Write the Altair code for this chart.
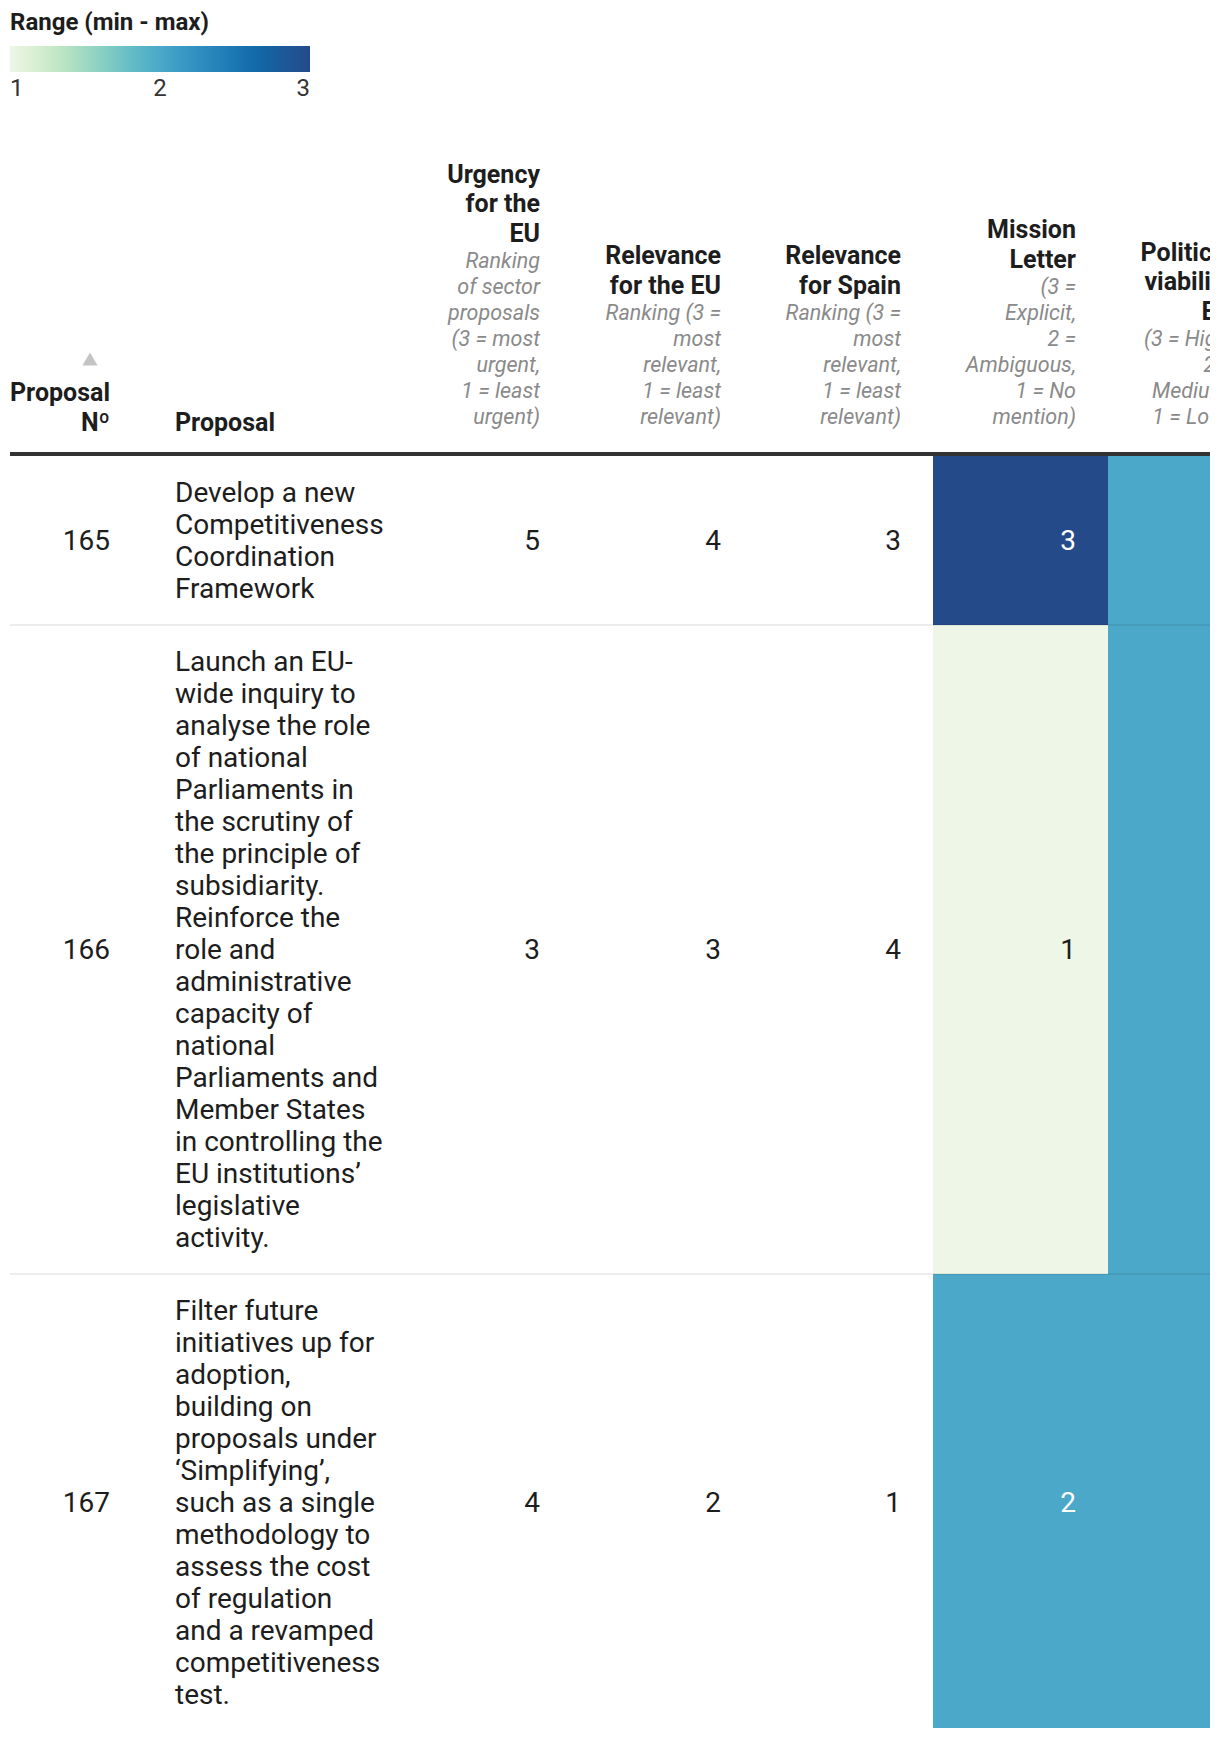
import altair as alt
import pandas as pd

# ---------------- data ----------------
proposal_no = [165, 166, 167]
proposal_text = [
    ["Develop a new", "Competitiveness", "Coordination", "Framework"],
    ["Launch an EU-", "wide inquiry to", "analyse the role", "of national",
     "Parliaments in", "the scrutiny of", "the principle of", "subsidiarity.",
     "Reinforce the", "role and", "administrative", "capacity of", "national",
     "Parliaments and", "Member States", "in controlling the", "EU institutions\u2019",
     "legislative", "activity."],
    ["Filter future", "initiatives up for", "adoption,", "building on",
     "proposals under", "\u2018Simplifying\u2019,", "such as a single", "methodology to",
     "assess the cost", "of regulation", "and a revamped", "competitiveness", "test."],
]
urgency_eu = [5, 3, 4]
relevance_eu = [4, 3, 2]
relevance_spain = [3, 4, 1]
mission_letter = [3, 1, 2]
political_viability = [2, 2, 2]

value_cols = ["urgency", "rel_eu", "rel_es", "mission", "political"]
values_by_col = {
    "urgency": urgency_eu,
    "rel_eu": relevance_eu,
    "rel_es": relevance_spain,
    "mission": mission_letter,
    "political": political_viability,
}
shaded_cols = ["mission", "political"]

header_bold = {
    "no": ["Proposal", "N\u00ba"],
    "urgency": ["Urgency", "for the", "EU"],
    "rel_eu": ["Relevance", "for the EU"],
    "rel_es": ["Relevance", "for Spain"],
    "mission": ["Mission", "Letter"],
    "political": ["Political", "viability", "EU"],
}
header_proposal = "Proposal"
header_note = {
    "urgency": ["Ranking", "of sector", "proposals", "(3 = most", "urgent,", "1 = least", "urgent)"],
    "rel_eu": ["Ranking (3 =", "most", "relevant,", "1 = least", "relevant)"],
    "rel_es": ["Ranking (3 =", "most", "relevant,", "1 = least", "relevant)"],
    "mission": ["(3 =", "Explicit,", "2 =", "Ambiguous,", "1 = No", "mention)"],
    "political": ["(3 = High,", "2 =", "Medium,", "1 = Low)"],
}
legend_title = "Range (min - max)"
legend_ticks = [1, 2, 3]
color_stops = [1, 1.333, 1.667, 2, 2.333, 2.667, 3]
color_range = ["#eef7e7", "#bfe6c4", "#80cac3", "#4ba8c9", "#2a87bd", "#1067a6", "#244a8a"]

# ---------------- layout (pixels inside plot area) ----------------
W, H = 1200, 1720
X_NO = 100
X_PROP = 165
COL_RIGHT = {"no": 100, "urgency": 530, "rel_eu": 711, "rel_es": 891,
             "mission": 1066, "political": 1222}
VISIBLE_RIGHT = W
CELL_PAD = 32
NOTE_BASE = 409.5
BOLD_BASE = 414.5
NOTE_LH = 26
BOLD_LH = 29.5
BOLD_NOTE_GAP = 28
RULE_Y = 446
BODY_TOP = 448
LINE_H = 32
ROW_PAD = 20.5
TEXT_DY = 1
BODY_FS = 28
HEAD_FS = 25
NOTE_FS = 21.5
TEXT_COLOR = "#1d1d1d"

# ---------------- derived tables ----------------
row_tops, row_bottoms = [], []
top = BODY_TOP
for lines in proposal_text:
    h = len(lines) * LINE_H + 2 * ROW_PAD
    row_tops.append(top)
    row_bottoms.append(top + h)
    top += h

col_order = ["no", "urgency", "rel_eu", "rel_es", "mission", "political"]

cells = []
for c in shaded_cols:
    i = col_order.index(c)
    left = COL_RIGHT[col_order[i - 1]] + CELL_PAD
    right = COL_RIGHT[c] + CELL_PAD
    for r in range(len(proposal_no)):
        cells.append({"x": left, "x2": right, "y": row_tops[r], "y2": row_bottoms[r],
                      "value": values_by_col[c][r]})
cells_df = pd.DataFrame(cells)

nums = []
for r in range(len(proposal_no)):
    yc = (row_tops[r] + row_bottoms[r]) / 2 + TEXT_DY
    nums.append({"x": COL_RIGHT["no"], "y": yc, "text": str(proposal_no[r]), "white": False})
    for c in value_cols:
        if COL_RIGHT[c] > VISIBLE_RIGHT:
            continue  # lies beyond the visible (scrolled) table area
        v = values_by_col[c][r]
        nums.append({"x": COL_RIGHT[c], "y": yc, "text": str(v),
                     "white": bool(c in shaded_cols and v >= 2)})
nums_df = pd.DataFrame(nums)

prop_lines = []
for r, lines in enumerate(proposal_text):
    for k, t in enumerate(lines):
        prop_lines.append({"x": X_PROP,
                           "y": row_tops[r] + ROW_PAD + LINE_H / 2 + k * LINE_H + TEXT_DY,
                           "text": t})
prop_df = pd.DataFrame(prop_lines)

bold_rows, note_rows = [], []
for c, blines in header_bold.items():
    notes = header_note.get(c, [])
    if notes:
        first_note = NOTE_BASE - (len(notes) - 1) * NOTE_LH
        for k, t in enumerate(notes):
            note_rows.append({"x": COL_RIGHT[c], "y": first_note + k * NOTE_LH, "text": t})
        last_bold = first_note - BOLD_NOTE_GAP
    else:
        last_bold = BOLD_BASE
    nb = len(blines)
    for k, t in enumerate(blines):
        bold_rows.append({"x": COL_RIGHT[c], "y": last_bold - (nb - 1 - k) * BOLD_LH, "text": t})
bold_df = pd.DataFrame(bold_rows)
note_df = pd.DataFrame(note_rows)
prop_head_df = pd.DataFrame([{"x": X_PROP, "y": BOLD_BASE, "text": header_proposal}])
arrow_df = pd.DataFrame([{"x": X_NO - 20, "y": BOLD_BASE - BOLD_LH - 34}])

seps_df = pd.DataFrame([{"y": b} for b in row_bottoms])
rule_df = pd.DataFrame([{"y": RULE_Y}])

xs = alt.Scale(domain=[0, W], nice=False, zero=False)
ys = alt.Scale(domain=[0, H], nice=False, zero=False, reverse=True)

def X(f="x"):
    return alt.X(f + ":Q", scale=xs, axis=None)

def Y(f="y"):
    return alt.Y(f + ":Q", scale=ys, axis=None)

cell_layer = alt.Chart(cells_df).mark_rect(clip=True).encode(
    x=X(), x2="x2:Q", y=Y(), y2="y2:Q",
    color=alt.Color(
        "value:Q",
        scale=alt.Scale(domain=color_stops, range=color_range),
        legend=alt.Legend(
            title=legend_title, orient="none", legendX=0, legendY=3,
            direction="horizontal", gradientLength=300, gradientThickness=26,
            gradientStrokeWidth=0, values=legend_ticks, format="d", padding=0,
            titleFont="Roboto", titleFontSize=24, titleFontWeight="bold",
            titleColor=TEXT_COLOR, titlePadding=11, titleLimit=400,
            labelFont="Roboto", labelFontSize=24, labelColor="#333333", labelOffset=5,
        ),
    ),
)

sep_layer = alt.Chart(seps_df).mark_rule(color="#000000", opacity=0.07, strokeWidth=2, clip=True).encode(
    y=Y(), x=alt.value(0), x2=alt.value(W)
)
rule_layer = alt.Chart(rule_df).mark_rule(color="#333333", strokeWidth=4, clip=True).encode(
    y=Y(), x=alt.value(0), x2=alt.value(W)
)

num_layer = alt.Chart(nums_df).mark_text(
    align="right", baseline="middle", font="Roboto", fontSize=BODY_FS, clip=True
).encode(
    x=X(), y=Y(), text="text:N",
    color=alt.condition("datum.white", alt.value("#ffffff"), alt.value(TEXT_COLOR)),
)

prop_layer = alt.Chart(prop_df).mark_text(
    align="left", baseline="middle", font="Roboto", fontSize=BODY_FS, color=TEXT_COLOR, clip=True
).encode(x=X(), y=Y(), text="text:N")

bold_layer = alt.Chart(bold_df).mark_text(
    align="right", baseline="middle", font="Roboto", fontSize=HEAD_FS, fontWeight="bold",
    color=TEXT_COLOR, clip=True
).encode(x=X(), y=Y(), text="text:N")

prop_head_layer = alt.Chart(prop_head_df).mark_text(
    align="left", baseline="middle", font="Roboto", fontSize=HEAD_FS, fontWeight="bold",
    color=TEXT_COLOR, clip=True
).encode(x=X(), y=Y(), text="text:N")

note_layer = alt.Chart(note_df).mark_text(
    align="right", baseline="middle", font="Roboto", fontSize=NOTE_FS, fontStyle="italic",
    color="#8a8a8a", clip=True
).encode(x=X(), y=Y(), text="text:N")

arrow_layer = alt.Chart(arrow_df).mark_point(
    shape="triangle-up", filled=True, size=230, color="#c4c4c4", opacity=1
).encode(x=X(), y=Y())

chart = alt.layer(
    cell_layer, sep_layer, rule_layer, num_layer, prop_layer,
    bold_layer, prop_head_layer, note_layer, arrow_layer,
).properties(
    width=W, height=H,
    autosize=alt.AutoSizeParams(type="none"),
    padding={"left": 2, "top": 0, "right": 0, "bottom": 0},
).configure(font="Roboto", background="#ffffff").configure_view(stroke=None)

chart.save("out.html", embed_options={"renderer": "svg", "actions": False})
